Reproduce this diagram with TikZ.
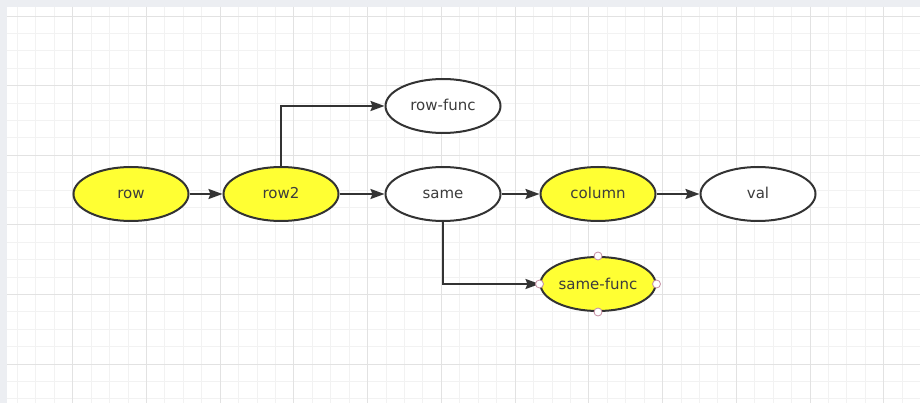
\documentclass[tikz,border=0pt]{standalone}
\usepackage{fontspec}
\newfontfamily\boxfont{DejaVu Sans}
\usepackage{tikz}
\usetikzlibrary{shapes.geometric}
\usetikzlibrary{arrows.meta}
\definecolor{lineclr}{RGB}{51,51,51}
\definecolor{textclr}{RGB}{60,60,60}
\definecolor{nodeyellow}{RGB}{255,255,51}
\definecolor{handleclr}{RGB}{196,140,160}
\definecolor{bandclr}{RGB}{236,238,242}
\definecolor{gridminor}{RGB}{242,242,242}
\definecolor{gridmajor}{RGB}{226,226,226}

\begin{document}
\begin{tikzpicture}[x=1pt,y=-1pt,
	yellownode/.style={ellipse,draw=lineclr,line width=2pt,fill=nodeyellow,minimum width=115pt,minimum height=54pt,inner sep=0pt,text height=12.5pt,text depth=2.5pt,text=textclr,font=\boxfont\fontsize{15}{18}\selectfont},
	whitenode/.style={yellownode,fill=white},
	link/.style={draw=lineclr,line width=2pt,-{Stealth[length=14pt,width=10pt,inset=2pt]}},
	handle/.style={circle,draw=handleclr,fill=white,line width=0.8pt,minimum size=8pt,inner sep=0pt}]
	\useasboundingbox (0,0) rectangle (920,403);
	% background and grid
	\fill[bandclr] (0,0) rectangle (920,403);
	\fill[white] (7,7) rectangle (920,403);
	\foreach \i in {1,...,49} \draw[gridminor,line width=0.8pt] ({-1+18.43*\i},7) -- ({-1+18.43*\i},403);
	\foreach \j in {0,...,22} \draw[gridminor,line width=0.8pt] (7,{16+17.4*\j}) -- (920,{16+17.4*\j});
	\foreach \i in {1,...,12} \draw[gridmajor,line width=0.8pt] ({-1+73.72*\i},7) -- ({-1+73.72*\i},403);
	\foreach \j in {0,...,5} \draw[gridmajor,line width=0.8pt] (7,{16+69.6*\j}) -- (920,{16+69.6*\j});

	% nodes
	\node[yellownode] (row) at (131,194) {row};
	\node[yellownode] (row2) at (281,194) {row2};
	\node[whitenode] (same) at (443,194) {same};
	\node[yellownode] (column) at (598,194) {column};
	\node[whitenode] (val) at (758,194) {val};
	\node[whitenode] (rowfunc) at (443,106) {row-func};
	\node[yellownode] (samefunc) at (598,284) {same-func};

	% links
	\draw[link] (row) -- (row2);
	\draw[link] (row2) -- (same);
	\draw[link] (same) -- (column);
	\draw[link] (column) -- (val);
	\draw[link] (row2) |- (rowfunc);
	\draw[link] (same) |- (samefunc);

	% selection handles
	\node[handle] (hn) at (samefunc.north) {};
	\node[handle] (hs) at (samefunc.south) {};
	\node[handle] (he) at (samefunc.east) {};
	\node[handle] (hw) at (samefunc.west) {};
\end{tikzpicture}
\end{document}
